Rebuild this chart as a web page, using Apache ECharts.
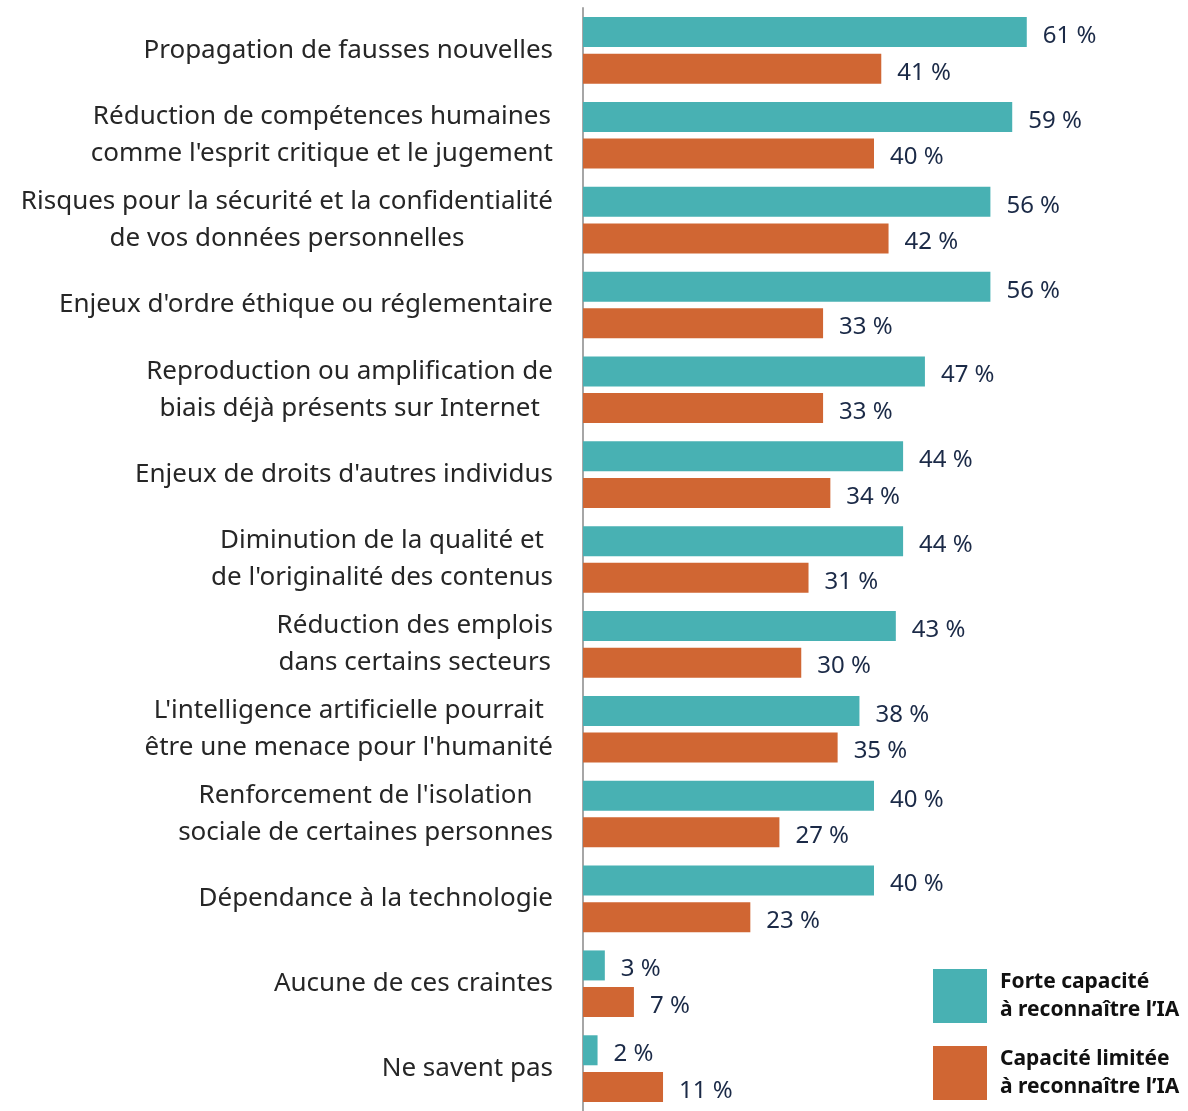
<!DOCTYPE html>
<html>
<head>
<meta charset="utf-8">
<script src="https://cdn.jsdelivr.net/npm/echarts@6/dist/echarts.min.js"></script>
<style>
  html, body { margin: 0; padding: 0; background: #fff; }
  #chart { width: 1188px; height: 1111px; }
</style>
</head>
<body>
<div id="chart"></div>
<script>
// categories, top to bottom
var categories = [
  'Propagation de fausses nouvelles',
  'Réduction de compétences humaines\ncomme l\'esprit critique et le jugement',
  'Risques pour la sécurité et la confidentialité\nde vos données personnelles',
  'Enjeux d\'ordre éthique ou réglementaire',
  'Reproduction ou amplification de\nbiais déjà présents sur Internet',
  'Enjeux de droits d\'autres individus',
  'Diminution de la qualité et\nde l\'originalité des contenus',
  'Réduction des emplois\ndans certains secteurs',
  'L\'intelligence artificielle pourrait\nêtre une menace pour l\'humanité',
  'Renforcement de l\'isolation\nsociale de certaines personnes',
  'Dépendance à la technologie',
  'Aucune de ces craintes',
  'Ne savent pas'
]
var seriesNames = ['Forte capacité\nà reconnaître l’IA', 'Capacité limitée\nà reconnaître l’IA']
var forte = [61, 59, 56, 56, 47, 44, 44, 43, 38, 40, 40, 3, 2]
var limitee = [41, 40, 42, 33, 33, 34, 31, 30, 35, 27, 23, 7, 11]

var font = 'Noto Sans'
var chart = echarts.init(document.getElementById('chart'))

function barSeries(name, data, color) {
  return {
    name: name,
    type: 'bar',
    data: data,
    barWidth: 30,
    barGap: '22%',
    itemStyle: { color: color },
    label: {
      show: true,
      position: 'right',
      distance: 16,
      offset: [0, 4],
      formatter: '{c} %',
      color: '#1b2a47',
      fontFamily: font,
      fontSize: 24
    }
  }
}

var option = {
  animation: false,
  grid: { left: 583, top: 8, width: 582, height: 1110 },
  legend: {
    orient: 'vertical',
    left: 933,
    top: 965,
    padding: 0,
    itemWidth: 54,
    itemHeight: 54,
    itemGap: 15,
    icon: 'rect',
    data: seriesNames,
    textStyle: {
      fontFamily: font,
      fontWeight: 'bold',
      fontSize: 21,
      lineHeight: 28,
      color: '#111',
      padding: [6, 0, 0, 8]
    }
  },
  xAxis: {
    type: 'value',
    min: 0,
    max: 80,
    show: false
  },
  yAxis: {
    type: 'category',
    inverse: true,
    data: categories,
    axisLine: { lineStyle: { color: '#a6a6a6', width: 2 } },
    axisTick: { show: false },
    axisLabel: {
      margin: 30,
      formatter: function (v) {
        return v.split('\n').map(function (l) { return '{c|' + l + '}' }).join('\n')
      },
      rich: {
        c: {
          align: 'center',
          fontFamily: font,
          fontSize: 26,
          lineHeight: 37,
          color: '#262626'
        }
      }
    }
  },
  series: [
    barSeries(seriesNames[0], forte, '#48b1b3'),
    barSeries(seriesNames[1], limitee, '#d06633')
  ]
}
chart.setOption(option)
</script>
</body>
</html>
